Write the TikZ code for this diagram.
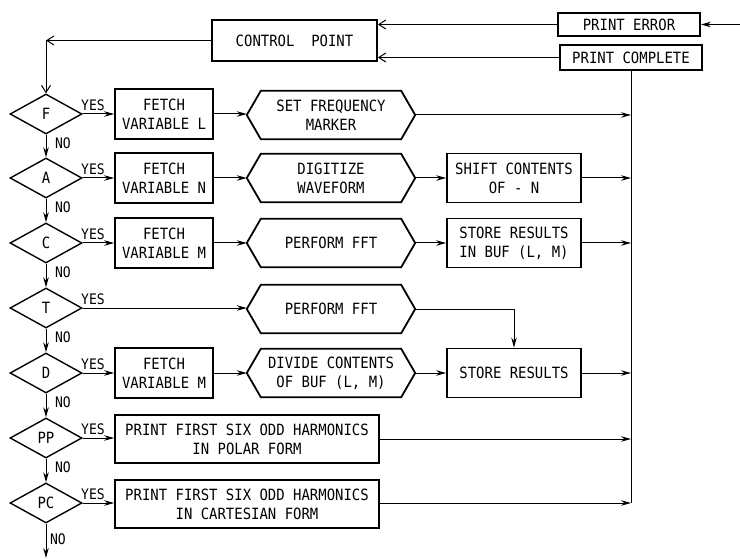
\documentclass[tikz,border=0pt]{standalone}
\usepackage{fontspec}
\newfontfamily\lett[FakeStretch=0.9]{DejaVu Sans Mono}
\usetikzlibrary{shapes.geometric,arrows.meta}
\newcommand\hexdraw[1]{\draw[boxline] (#1.west) -- ([xshift=14pt]#1.north west) -- ([xshift=-14pt]#1.north east) -- (#1.east) -- ([xshift=-14pt]#1.south east) -- ([xshift=14pt]#1.south west) -- cycle;}
\begin{document}
\begin{tikzpicture}[x=1pt,y=-1pt,
  every node/.style={font=\lett\fontsize{15.5}{19}\selectfont, align=center, inner sep=0pt},
  boxline/.style={line width=1.8pt, line join=miter},
  box/.style={draw, line width=1.8pt},
  fetch/.style={box, minimum width=98pt, minimum height=50pt},
  hexn/.style={minimum width=168pt, minimum height=48pt},
  third/.style={box, minimum width=134pt, minimum height=49pt},
  wide/.style={box, minimum width=264pt, minimum height=48pt},
  dia/.style={draw, diamond, aspect=1.8, minimum width=72pt, minimum height=40pt, line width=1.4pt},
  yn/.style={font=\lett\fontsize{14.5}{16}\selectfont},
  conn/.style={line width=1pt},
  arr/.style={conn, -{Stealth[length=10pt,width=5.5pt]}},
  barb/.style={conn, -{Straight Barb[length=7pt,width=9pt]}}
]
\useasboundingbox (0,0) rectangle (740,559);

% top
\node[box, minimum width=165pt, minimum height=41pt] (ctrl) at (294.5,40.5) {CONTROL\ \ POINT};
\node[box, minimum width=142pt, minimum height=23pt] (perr) at (629,24.5) {PRINT ERROR};
\node[box, minimum width=142pt, minimum height=25pt] (pcomp) at (631,57.5) {PRINT COMPLETE};
\coordinate (in) at (740,24.5);
\coordinate (corner) at (46,40.5);
\coordinate (bus) at (631,503);

% diamonds
\node[dia] (F) at (46,114) {F};
\node[dia] (A) at (46,178) {A};
\node[dia] (C) at (46,243) {C};
\node[dia] (T) at (46,308) {T};
\node[dia] (D) at (46,373) {D};
\node[dia] (PP) at (46,438) {PP};
\node[dia] (PC) at (46,503) {PC};
\coordinate (out) at (46,558);

% row F
\node[fetch] (fF) at (164,114) {FETCH\\VARIABLE L};
\node[hexn] (hF) at (331,115) {SET FREQUENCY\\MARKER};
\hexdraw{hF}
% row A
\node[fetch] (fA) at (164,178) {FETCH\\VARIABLE N};
\node[hexn] (hA) at (331,178) {DIGITIZE\\WAVEFORM};
\hexdraw{hA}
\node[third] (sA) at (514,178) {SHIFT CONTENTS\\OF - N};
% row C
\node[fetch] (fC) at (164,243) {FETCH\\VARIABLE M};
\node[hexn] (hC) at (331,243) {PERFORM FFT};
\hexdraw{hC}
\node[third] (sC) at (514,243) {STORE RESULTS\\IN BUF (L, M)};
% row T
\node[hexn] (hT) at (331,309) {PERFORM FFT};
\hexdraw{hT}
% row D
\node[fetch] (fD) at (164,373) {FETCH\\VARIABLE M};
\node[hexn] (hD) at (331,373) {DIVIDE CONTENTS\\OF BUF (L, M)};
\hexdraw{hD}
\node[third] (sD) at (514,373) {STORE RESULTS};
% rows PP, PC
\node[wide] (bPP) at (247,439) {PRINT FIRST SIX ODD HARMONICS\\IN POLAR FORM};
\node[wide] (bPC) at (247,504) {PRINT FIRST SIX ODD HARMONICS\\IN CARTESIAN FORM};

% top connectors
\draw[barb] (ctrl.west) -- (corner);
\draw[barb] (corner) -- (F.north);
\draw[barb] (perr.west) -- (perr.west -| ctrl.east);
\draw[barb] (pcomp.west) -- (pcomp.west -| ctrl.east);
\draw[arr] (in) -- (perr.east);
\draw[conn] (pcomp.south) -- (bus);

% vertical chain
\draw[arr] (F.south) -- (A.north);
\draw[arr] (A.south) -- (C.north);
\draw[arr] (C.south) -- (T.north);
\draw[arr] (T.south) -- (D.north);
\draw[arr] (D.south) -- (PP.north);
\draw[arr] (PP.south) -- (PC.north);
\draw[arr] (PC.south) -- (out);

% rows
\draw[arr] (F.east) -- (fF.west);
\draw[arr] (fF.east) -- (fF.east -| hF.west);
\draw[arr] (hF.east) -- (hF.east -| bus);

\draw[arr] (A.east) -- (fA.west);
\draw[arr] (fA.east) -- (hA.west);
\draw[arr] (hA.east) -- (sA.west);
\draw[arr] (sA.east) -- (sA.east -| bus);

\draw[arr] (C.east) -- (fC.west);
\draw[arr] (fC.east) -- (hC.west);
\draw[arr] (hC.east) -- (sC.west);
\draw[arr] (sC.east) -- (sC.east -| bus);

\draw[arr] (T.east) -- (T.east -| hT.west);
\draw[arr] (hT.east) -| (sD.north);

\draw[arr] (D.east) -- (fD.west);
\draw[arr] (fD.east) -- (hD.west);
\draw[arr] (hD.east) -- (sD.west);
\draw[arr] (sD.east) -- (sD.east -| bus);

\draw[arr] (PP.east) -- (PP.east -| bPP.west);
\draw[arr] (bPP.east) -- (bPP.east -| bus);
\draw[arr] (PC.east) -- (PC.east -| bPC.west);
\draw[arr] (bPC.east |- bus) -- (bus);

% labels
\foreach \n/\y in {yF/114, yA/178, yC/243, yT/308, yD/373, yPP/438, yPC/503}
  \node[yn] (\n) at (93,\y-9) {YES};
\foreach \n/\y in {nF/114, nA/178, nC/243, nT/308, nD/373, nPP/438}
  \node[yn] (\n) at (63,\y+29) {NO};
\node[yn] (nPC) at (58,539) {NO};
\end{tikzpicture}
\end{document}
